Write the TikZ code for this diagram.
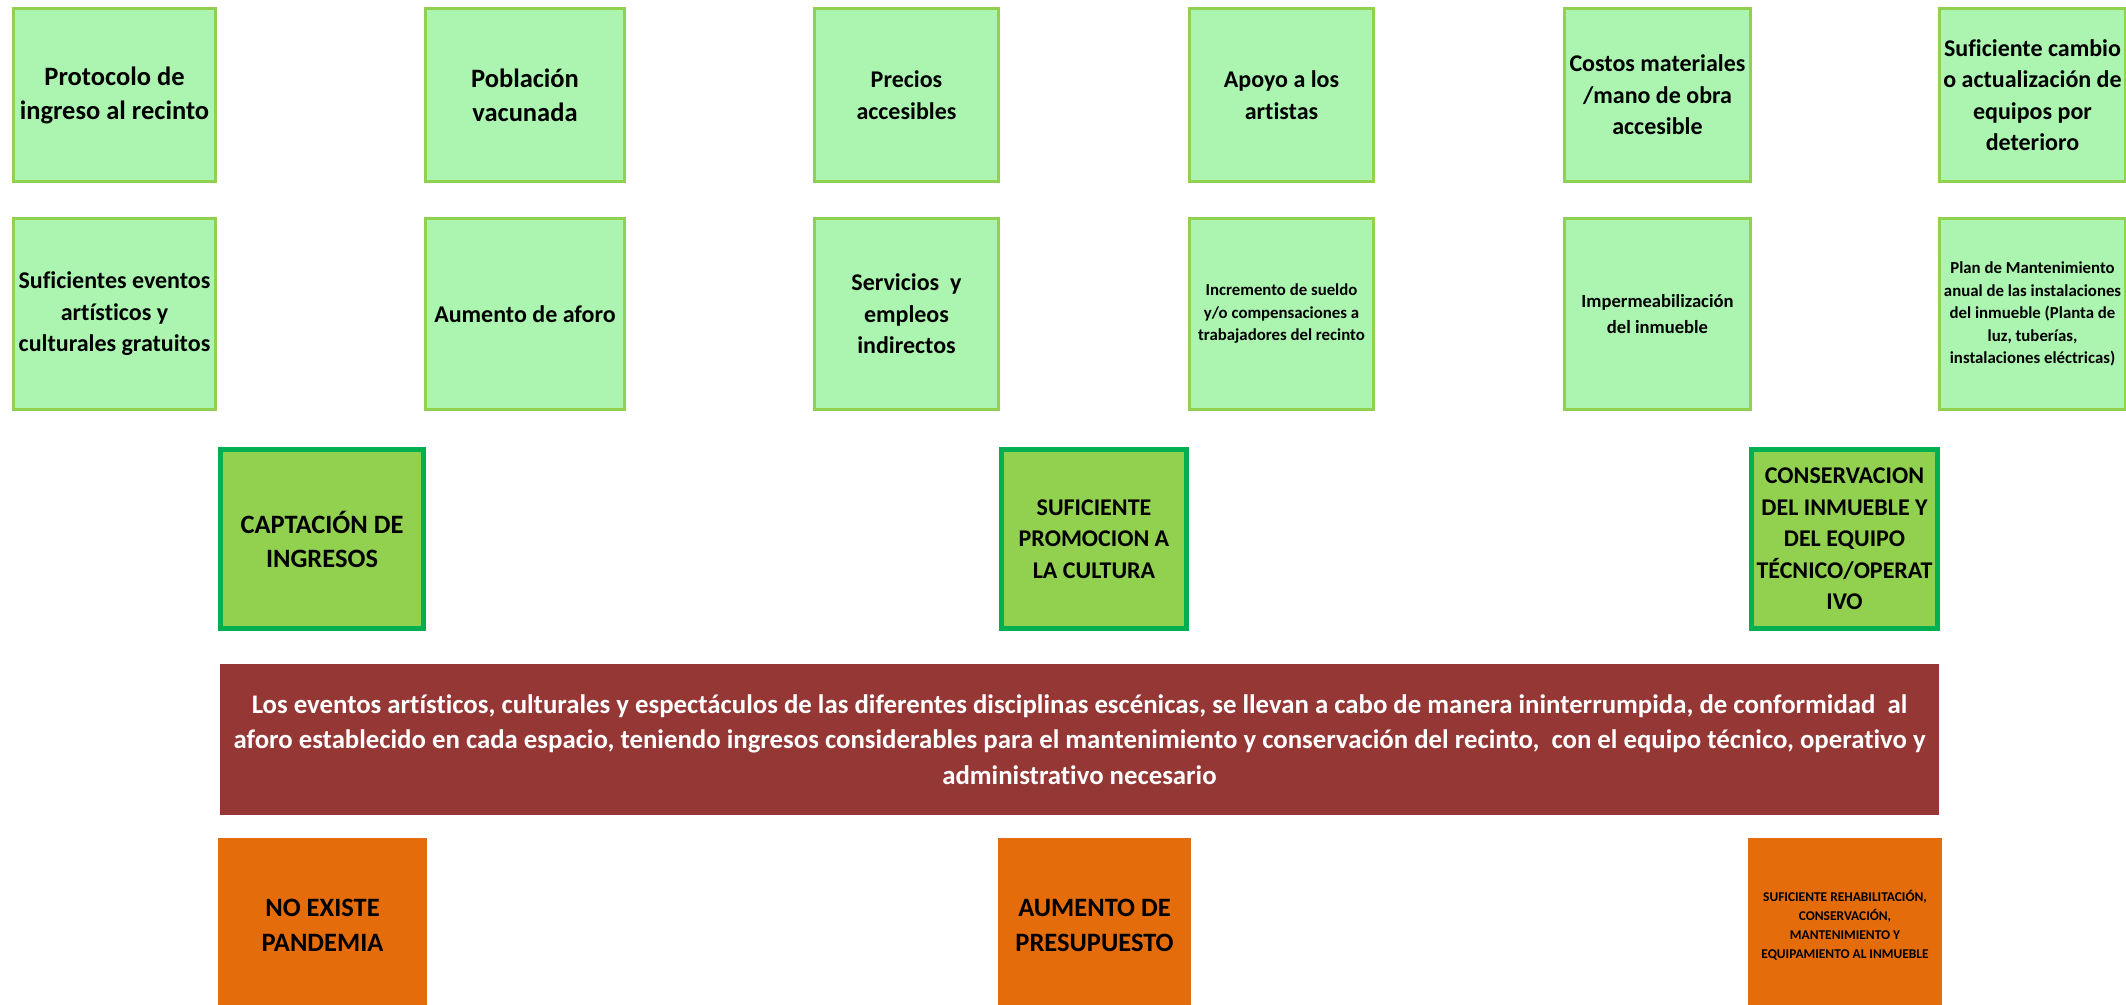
\documentclass[tikz,border=0pt]{standalone}
\usepackage{fontspec}
\setmainfont{Carlito}[Ligatures=NoCommon]
\usetikzlibrary{positioning}

\definecolor{verdeClaro}{HTML}{ABF5B0}
\definecolor{verdeBorde}{HTML}{92D050}
\definecolor{verdeMedio}{HTML}{92D050}
\definecolor{verdeOscuro}{HTML}{00B050}
\definecolor{rojoBanda}{HTML}{953735}
\definecolor{naranja}{HTML}{E46C0A}

\newcommand{\fGrande}{\fontsize{13.25}{17}\selectfont\bfseries}
\newcommand{\fMedia}{\fontsize{12}{15.75}\selectfont\bfseries}
\newcommand{\fChica}{\fontsize{8.4}{11.25}\selectfont\bfseries}
\newcommand{\fMini}{\fontsize{6.7}{9.5}\selectfont\bfseries}

\begin{document}
\begin{tikzpicture}[x=0.5pt, y=-0.5pt,
    medio/.style={draw=verdeBorde, fill=verdeClaro, line width=1.5pt, inner sep=0pt, align=center},
    arriba/.style={medio, minimum height=86.5pt},
    abajo/.style={medio, minimum height=95.5pt},
    objetivo/.style={draw=verdeOscuro, fill=verdeMedio, line width=2.5pt, inner sep=0pt, align=center, minimum height=89.5pt, font=\fMedia},
    supuesto/.style={fill=naranja, inner sep=0pt, align=center, minimum height=87pt}]
    \useasboundingbox (0,0) rectangle (2126,1005);

    % fila de arriba
    \node[arriba, minimum width=101pt, font=\fGrande] at (114.5,95) (Protocolo) {Protocolo de\\ingreso al recinto};
    \node[arriba, minimum width=99.5pt, font=\fGrande] at (525,95) (Poblacion) {Población\\vacunada};
    \node[arriba, minimum width=92pt, font=\fMedia] at (906.5,95) (Precios) {Precios\\accesibles};
    \node[arriba, minimum width=92pt, font=\fMedia] at (1281.5,95) (Apoyo) {Apoyo a los\\artistas};
    \node[arriba, minimum width=93pt, font=\fMedia] at (1657.5,95) (Costos) {Costos materiales\\/mano de obra\\accesible};
    \node[arriba, minimum width=93pt, font=\fMedia] at (2032.5,95) (Cambio) {Suficiente cambio\\o actualización de\\equipos por\\deterioro};

    % segunda fila
    \node[abajo, minimum width=101pt, font=\fMedia] at (114.5,314) (Gratuitos) {Suficientes eventos\\artísticos y\\culturales gratuitos};
    \node[abajo, minimum width=99.5pt, font=\fMedia] at (525,314) (Aforo) {Aumento de aforo};
    \node[abajo, minimum width=92pt, font=\fMedia] at (906.5,314) (Servicios) {Servicios~ y\\empleos\\indirectos};
    \node[abajo, minimum width=92pt, font=\fChica] at (1281.5,314) (Sueldo) {Incremento de sueldo\\y/o compensaciones a\\trabajadores del recinto};
    \node[abajo, minimum width=93pt, font=\fontsize{9.3}{13}\selectfont\bfseries] at (1657.5,314) (Impermeable) {Impermeabilización\\del inmueble};
    \node[abajo, minimum width=93pt, font=\fChica] at (2032.5,314) (Mantenimiento) {Plan de Mantenimiento\\anual de las instalaciones\\del inmueble (Planta de\\luz, tuberías,\\instalaciones eléctricas)};

    % objetivos
    \node[objetivo, minimum width=101.5pt, font=\fGrande] at (322,539) (Ingresos) {CAPTACIÓN DE\\INGRESOS};
    \node[objetivo, minimum width=92.5pt] at (1094,539) (Promocion) {SUFICIENTE\\PROMOCION A\\LA CULTURA};
    \node[objetivo, minimum width=93pt] at (1844.5,539) (Conservacion) {CONSERVACION\\DEL INMUEBLE Y\\DEL EQUIPO\\TÉCNICO/OPERAT\\IVO};

    % proposito
    \node[fill=rojoBanda, text=white, inner sep=0pt, align=center, minimum width=859.5pt, minimum height=75.5pt,
          font=\fontsize{13.4}{17.8}\selectfont\bfseries] at (1079.5,739.5) (Proposito)
        {Los eventos artísticos, culturales y espectáculos de las diferentes disciplinas escénicas, se llevan a cabo de manera ininterrumpida, de conformidad~ al\\
         aforo establecido en cada espacio, teniendo ingresos considerables para el mantenimiento y conservación del recinto,~ con el equipo técnico, operativo y\\
         administrativo necesario};

    % supuestos
    \node[supuesto, minimum width=104.5pt, font=\fontsize{13.25}{17.5}\selectfont\bfseries] at (322.5,925) (Pandemia) {NO EXISTE\\PANDEMIA};
    \node[supuesto, minimum width=96.5pt, font=\fontsize{13.25}{17.5}\selectfont\bfseries] at (1094.5,925) (Presupuesto) {AUMENTO DE\\PRESUPUESTO};
    \node[supuesto, minimum width=97pt, font=\fMini] at (1845,925) (Rehabilitacion) {SUFICIENTE REHABILITACIÓN,\\CONSERVACIÓN,\\MANTENIMIENTO Y\\EQUIPAMIENTO AL INMUEBLE};
\end{tikzpicture}
\end{document}
